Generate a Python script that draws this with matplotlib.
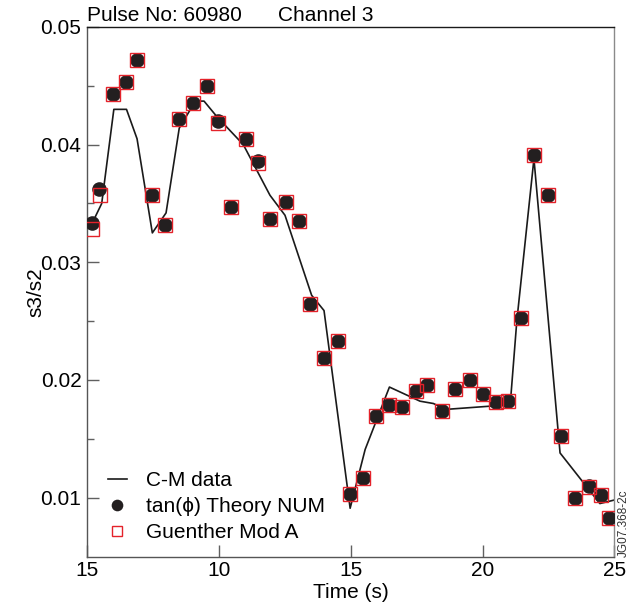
import matplotlib
matplotlib.use('Agg')
import matplotlib.pyplot as plt

plt.rcParams.update({'font.family': ['Liberation Sans', 'DejaVu Sans'],
                     'font.size': 15})

# C-M data (line)
t_line = [5.15, 5.56, 6.02, 6.50, 6.90, 7.48, 8.00, 8.50, 9.03, 9.22, 9.44,
          9.92, 10.93, 11.94, 12.51, 13.52, 13.99, 14.98, 15.55, 16.47,
          17.63, 18.14, 18.60, 21.05, 21.30, 21.95, 22.94, 24.45, 25.0]
cm_data = [0.0331, 0.0350, 0.0430, 0.0430, 0.0405, 0.0325, 0.0342, 0.0414,
           0.0434, 0.0437, 0.0437, 0.0424, 0.0400, 0.0357, 0.0340, 0.0272,
           0.0259, 0.0091, 0.0141, 0.0194, 0.0182, 0.0180, 0.0175, 0.0179,
           0.0250, 0.0388, 0.0138, 0.0095, 0.0098]

# model points
t_pts = [5.20, 5.47, 6.00, 6.48, 6.89, 7.48, 7.95, 8.49, 9.02, 9.54, 9.97,
         10.47, 11.02, 11.49, 11.95, 12.56, 13.05, 13.47, 13.98, 14.51,
         14.97, 15.46, 15.96, 16.46, 16.94, 17.49, 17.90, 18.47, 18.96,
         19.53, 20.00, 20.50, 20.98, 21.46, 21.96, 22.48, 22.98, 23.51,
         24.02, 24.50, 24.80]
theory_num = [0.0333, 0.0362, 0.0443, 0.0453, 0.0472, 0.0357, 0.0332, 0.0422,
              0.0435, 0.0450, 0.0420, 0.0347, 0.0405, 0.0386, 0.0337, 0.0351,
              0.0335, 0.0265, 0.0219, 0.0233, 0.0103, 0.0117, 0.0169, 0.0179,
              0.0177, 0.0191, 0.0196, 0.0174, 0.0192, 0.0200, 0.0188, 0.0181,
              0.0182, 0.0253, 0.0391, 0.0357, 0.0152, 0.0100, 0.0110, 0.0102,
              0.0083]
t_guen = [5.20, 5.49] + t_pts[2:]
guenther = [0.0328, 0.0357, 0.0443, 0.0453, 0.0472, 0.0357, 0.0332, 0.0422,
            0.0435, 0.0450, 0.0418, 0.0347, 0.0405, 0.0384, 0.0337, 0.0351,
            0.0335, 0.0265, 0.0219, 0.0233, 0.0103, 0.0117, 0.0169, 0.0179,
            0.0177, 0.0191, 0.0196, 0.0174, 0.0192, 0.0200, 0.0188, 0.0181,
            0.0182, 0.0253, 0.0391, 0.0357, 0.0152, 0.0100, 0.0109, 0.0102,
            0.0083]

xticks = [5, 10, 15, 20, 25]
xticklabels = ['15', '10', '15', '20', '25']
yticks = [0.01, 0.02, 0.03, 0.04, 0.05]

fig = plt.figure(figsize=(6.44, 6.09), dpi=100)
ax = fig.add_axes([0.135, 0.0862, 0.819, 0.8695])

ax.plot(t_line, cm_data, color='#1a1a1a', lw=1.2, label='C-M data', zorder=2)
ax.plot(t_pts, theory_num, 'o', color='#231f20', ms=10.5, mew=0,
        label='tan(ϕ) Theory NUM', zorder=3)
ax.plot(t_guen, guenther, 's', mfc='none', mec='#e4222a', ms=9.5, mew=1.0,
        label='Guenther Mod A', zorder=4)

ax.set_xlim(5, 25)
ax.set_ylim(0.005, 0.05)
ax.set_xticks(xticks)
ax.set_xticklabels(xticklabels)
ax.set_yticks(yticks)
ax.set_yticklabels(['%.2f' % v for v in yticks])
ax.set_yticks([0.015, 0.025, 0.035, 0.045], minor=True)
ax.tick_params(which='major', direction='in', length=8.4, width=1.0,
               color='#606060', pad=4)
ax.tick_params(which='minor', direction='in', length=4.8, width=1.0,
               color='#606060')
ax.tick_params(axis='x', pad=3)

for side in ['left', 'bottom']:
    ax.spines[side].set_color('#555555')
ax.spines['right'].set_color('#8a8a8a')
ax.spines['top'].set_color('#1a1a1a')
for s in ax.spines.values():
    s.set_linewidth(1.0)

ax.set_xlabel('Time (s)')
ax.set_ylabel('s3/s2')
ax.xaxis.set_label_coords(0.5, -0.05)
ax.yaxis.set_label_coords(-0.078, 0.5)

ax.text(0.0, 1.012, 'Pulse No: 60980', transform=ax.transAxes,
        ha='left', va='baseline')
ax.text(0.362, 1.012, 'Channel 3', transform=ax.transAxes,
        ha='left', va='baseline')
ax.text(1.006, 0.0, 'JG07.368-2c', transform=ax.transAxes, rotation=90,
        ha='left', va='bottom', fontsize=8.5, color='#333333')

ax.legend(loc='lower left', bbox_to_anchor=(0.04, 0.027), frameon=False,
          borderpad=0, borderaxespad=0, handlelength=0.9,
          handletextpad=0.9, labelspacing=0.33, markerscale=0.8)

fig.savefig('out.png', dpi=100)
